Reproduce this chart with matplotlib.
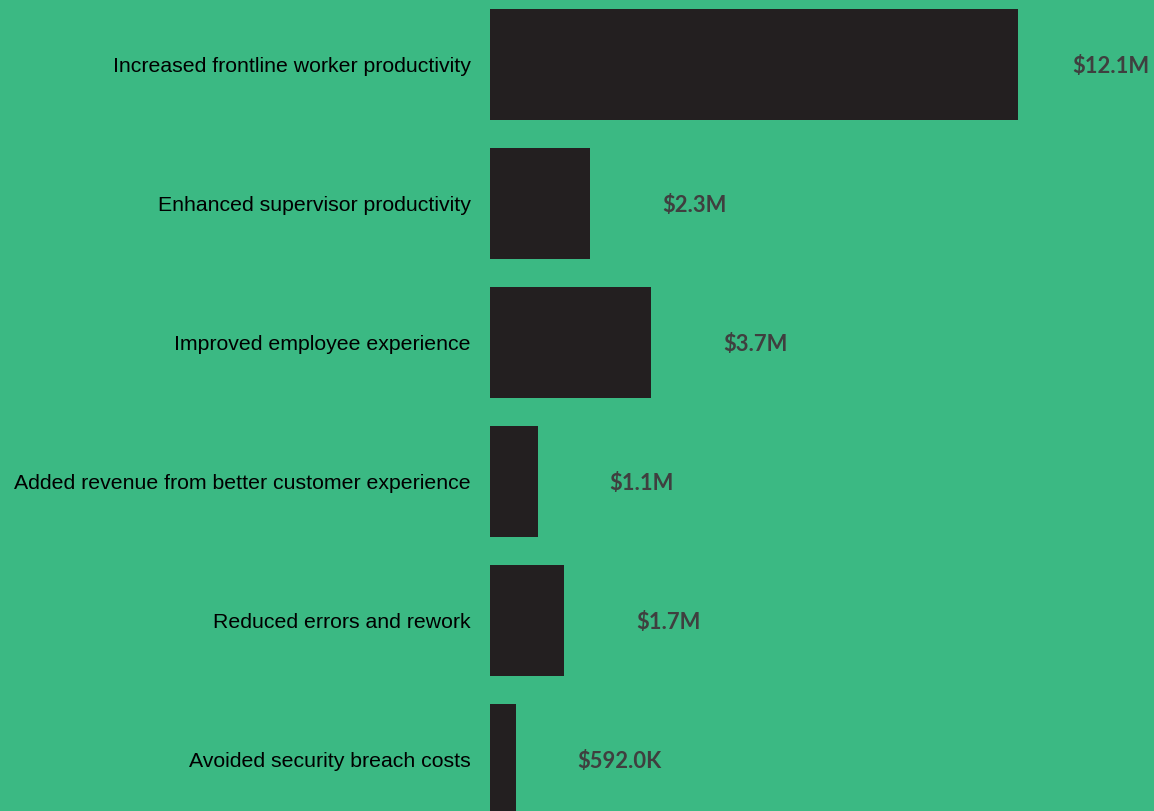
import matplotlib
matplotlib.use("Agg")
import matplotlib.pyplot as plt

categories = [
    "Increased frontline worker productivity",
    "Enhanced supervisor productivity",
    "Improved employee experience",
    "Added revenue from better customer experience",
    "Reduced errors and rework",
    "Avoided security breach costs",
]
values_musd = [12.1, 2.3, 3.7, 1.1, 1.7, 0.592]
value_labels = ["$12.1M", "$2.3M", "$3.7M", "$1.1M", "$1.7M", "$592.0K"]

BG = "#3bb983"
BAR = "#231f20"
LABEL = "#3f3f3f"

W, H = 1154, 811
fig = plt.figure(figsize=(W / 100, H / 100), dpi=100, facecolor=BG)
ax = fig.add_axes([490 / W, 0, 1 - 490 / W, 1])
ax.set_facecolor(BG)

px_per_m = 43.6
row_px = 139.0
top_px = 64.5
ypos = list(range(len(categories)))
ax.barh(ypos, values_musd, height=111 / row_px, color=BAR)
xmax = (W - 490) / px_per_m
ax.set_xlim(0, xmax)
ax.set_ylim((H - top_px) / row_px, -top_px / row_px)

# labels are centred ~104 px right of the bar end, kept inside the right edge
for i, (v, lab) in enumerate(zip(values_musd, value_labels)):
    xc = min(v + 104 / px_per_m, xmax - 43 / px_per_m)
    ax.text(xc, i + 0.012, lab, ha="center", va="center", fontsize=15.8,
            fontweight="bold", family="Lato", color=LABEL)

ax.set_yticks(ypos)
ax.set_yticklabels(categories, fontsize=15.3, family="Liberation Sans", color="black")
ax.tick_params(axis="y", length=0, pad=13.7)
ax.set_xticks([])
for s in ax.spines.values():
    s.set_visible(False)

fig.savefig("out.png", dpi=100, facecolor=BG)
